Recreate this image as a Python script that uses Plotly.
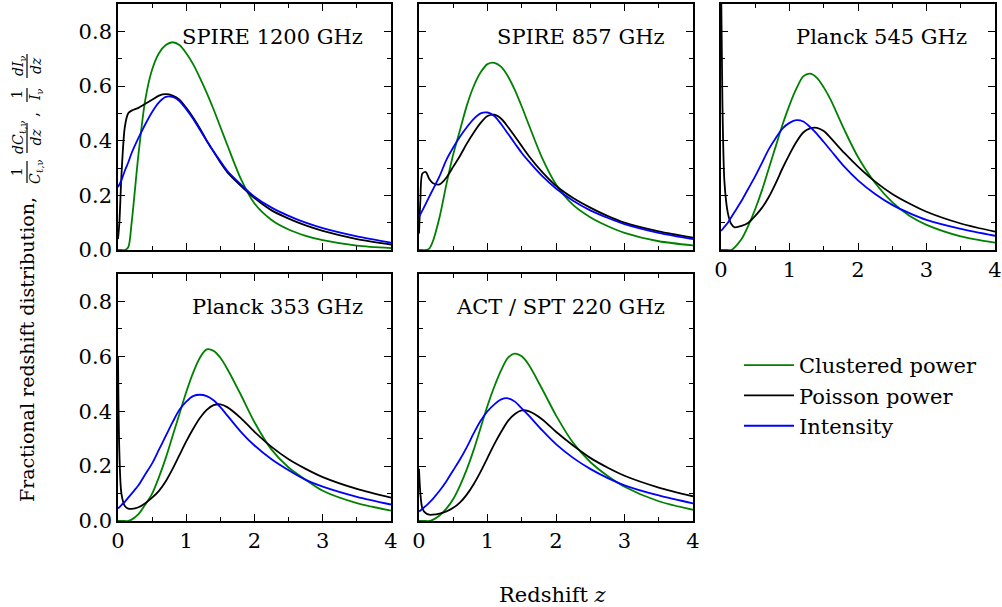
import plotly.graph_objects as go

# ---------------- data ----------------
Z = [0, 0.02, 0.05, 0.1, 0.15, 0.2, 0.3, 0.4, 0.5, 0.6, 0.7, 0.8, 0.9, 1.0, 1.1, 1.2,
     1.3, 1.4, 1.5, 1.6, 1.8, 2.0, 2.25, 2.5, 2.75, 3.0, 3.5, 4.0]

panel_titles = ["SPIRE 1200 GHz", "SPIRE 857 GHz", "Planck 545 GHz",
                "Planck 353 GHz", "ACT / SPT 220 GHz"]
series_names = ["Clustered power", "Poisson power", "Intensity"]

# SPIRE 1200 GHz
clus_1200 = [0, 0, 0, 0, 0.01, 0.1, 0.35, 0.55, 0.66, 0.72, 0.75, 0.76, 0.75, 0.72, 0.68, 0.63,
             0.575, 0.515, 0.45, 0.385, 0.26, 0.17, 0.11, 0.075, 0.052, 0.036, 0.016, 0.007]
pois_1200 = [0.04, 0.1, 0.27, 0.45, 0.5, 0.51, 0.52, 0.535, 0.55, 0.565, 0.57, 0.565, 0.55, 0.52, 0.485, 0.445,
             0.4, 0.36, 0.32, 0.285, 0.235, 0.19, 0.145, 0.115, 0.09, 0.07, 0.04, 0.02]
inte_1200 = [0.23, 0.24, 0.255, 0.29, 0.32, 0.355, 0.41, 0.46, 0.505, 0.54, 0.56, 0.56, 0.545, 0.515, 0.48, 0.44,
             0.4, 0.36, 0.325, 0.29, 0.24, 0.195, 0.155, 0.125, 0.1, 0.08, 0.05, 0.027]

# SPIRE 857 GHz
clus_857 = [0, 0, 0, 0, 0.005, 0.03, 0.12, 0.24, 0.35, 0.44, 0.53, 0.6, 0.65, 0.68, 0.685, 0.67,
            0.635, 0.585, 0.525, 0.46, 0.335, 0.24, 0.165, 0.12, 0.088, 0.063, 0.032, 0.017]
pois_857 = [0.06, 0.18, 0.28, 0.285, 0.26, 0.245, 0.24, 0.265, 0.305, 0.345, 0.39, 0.43, 0.465, 0.49, 0.495, 0.48,
            0.45, 0.415, 0.38, 0.345, 0.285, 0.235, 0.19, 0.155, 0.125, 0.1, 0.068, 0.045]
inte_857 = [0.12, 0.13, 0.145, 0.17, 0.195, 0.22, 0.27, 0.33, 0.375, 0.415, 0.45, 0.48, 0.5, 0.503, 0.49, 0.46,
            0.425, 0.39, 0.355, 0.325, 0.27, 0.225, 0.18, 0.145, 0.118, 0.095, 0.063, 0.04]

# Planck 545 GHz
clus_545 = [0, 0, 0, 0, 0, 0.01, 0.04, 0.09, 0.15, 0.22, 0.3, 0.38, 0.46, 0.53, 0.59, 0.635,
            0.645, 0.63, 0.595, 0.55, 0.44, 0.34, 0.245, 0.175, 0.125, 0.092, 0.05, 0.027]
pois_545 = [1.0, 0.55, 0.25, 0.135, 0.095, 0.083, 0.088, 0.1, 0.125, 0.155, 0.195, 0.245, 0.3, 0.35, 0.395, 0.43,
            0.445, 0.447, 0.435, 0.41, 0.355, 0.305, 0.25, 0.205, 0.17, 0.14, 0.097, 0.067]
inte_545 = [0.07, 0.075, 0.085, 0.1, 0.12, 0.14, 0.18, 0.225, 0.27, 0.32, 0.37, 0.41, 0.445, 0.465, 0.475, 0.47,
            0.45, 0.425, 0.395, 0.365, 0.305, 0.255, 0.205, 0.165, 0.135, 0.11, 0.077, 0.052]

# Planck 353 GHz
clus_353 = [0, 0, 0, 0, 0, 0.005, 0.025, 0.06, 0.1, 0.16, 0.23, 0.31, 0.39, 0.47, 0.54, 0.595,
            0.625, 0.62, 0.595, 0.555, 0.46, 0.36, 0.26, 0.195, 0.15, 0.11, 0.065, 0.038]
pois_353 = [0.6, 0.25, 0.1, 0.055, 0.045, 0.044, 0.05, 0.065, 0.085, 0.11, 0.145, 0.19, 0.24, 0.29, 0.335, 0.375,
            0.405, 0.422, 0.425, 0.415, 0.375, 0.325, 0.27, 0.225, 0.19, 0.16, 0.117, 0.085]
inte_353 = [0.046, 0.05, 0.058, 0.07, 0.085, 0.1, 0.13, 0.17, 0.21, 0.26, 0.31, 0.36, 0.405, 0.435, 0.455, 0.46,
            0.455, 0.44, 0.415, 0.385, 0.325, 0.275, 0.225, 0.185, 0.15, 0.125, 0.088, 0.06]

# ACT / SPT 220 GHz
clus_220 = [0, 0, 0, 0, 0, 0.004, 0.02, 0.045, 0.08, 0.13, 0.19, 0.26, 0.34, 0.42, 0.49, 0.55,
            0.595, 0.61, 0.6, 0.57, 0.48, 0.385, 0.285, 0.215, 0.165, 0.125, 0.072, 0.041]
pois_220 = [0.19, 0.1, 0.045, 0.028, 0.023, 0.023, 0.027, 0.035, 0.048, 0.068, 0.097, 0.135, 0.18, 0.23, 0.28, 0.325,
            0.365, 0.39, 0.403, 0.4, 0.37, 0.325, 0.275, 0.23, 0.195, 0.165, 0.122, 0.09]
inte_220 = [0.035, 0.038, 0.045, 0.055, 0.067, 0.08, 0.11, 0.145, 0.185, 0.225, 0.27, 0.32, 0.365, 0.4, 0.425, 0.443,
            0.447, 0.435, 0.41, 0.385, 0.33, 0.28, 0.23, 0.19, 0.157, 0.13, 0.093, 0.064]

panels = [
    (clus_1200, pois_1200, inte_1200),
    (clus_857, pois_857, inte_857),
    (clus_545, pois_545, inte_545),
    (clus_353, pois_353, inte_353),
    (clus_220, pois_220, inte_220),
]
colors = ["#008000", "#000000", "#0000ff"]

x_ticks = [0, 1, 2, 3, 4]
y_ticks = [0.0, 0.2, 0.4, 0.6, 0.8]
y_tick_text = ["0.0", "0.2", "0.4", "0.6", "0.8"]

# y-axis label pieces: main text + stacked fractions (numerator, denominator)
ylabel_main = "Fractional redshift distribution,"
ylabel_fracs = [
    ("1", "<i>C</i><sub>ℓ,ν</sub>"),
    ("<i>dC</i><sub>ℓ,ν</sub>", "<i>dz</i>"),
    ("1", "<i>I</i><sub>ν</sub>"),
    ("<i>dI</i><sub>ν</sub>", "<i>dz</i>"),
]

# ---------------- layout geometry ----------------
W, H = 1002, 607
col_px = [(118, 391), (419, 693), (721, 995)]
row_px = [(4, 250), (274, 521)]
cells = [(0, 0), (0, 1), (0, 2), (1, 0), (1, 1)]
show_x_labels = [False, False, True, True, True]
show_y_labels = [True, False, False, True, False]

FONT = "DejaVu Serif"
FS = 21
fig = go.Figure()

for i, (vals, (r, c)) in enumerate(zip(panels, cells)):
    n = "" if i == 0 else str(i + 1)
    for k in range(3):
        fig.add_trace(go.Scatter(
            x=Z, y=vals[k], mode="lines", name=series_names[k],
            line=dict(color=colors[k], width=1.8, shape="spline", smoothing=0.8),
            xaxis="x" + n, yaxis="y" + n, showlegend=(i == 0),
            legendgroup=series_names[k],
        ))
    x0, x1 = col_px[c]
    y0, y1 = row_px[r]
    common = dict(showline=True, linecolor="black", linewidth=1.6, mirror="allticks",
                  ticks="inside", ticklen=7, tickwidth=1, tickcolor="black",
                  showgrid=False, zeroline=False, automargin=False,
                  tickfont=dict(family=FONT, size=FS, color="black"))
    fig.layout["xaxis" + n] = dict(
        domain=[x0 / W, x1 / W], range=[0, 4], anchor="y" + n,
        tickvals=x_ticks, ticktext=[str(t) for t in x_ticks],
        showticklabels=show_x_labels[i],
        minor=dict(dtick=0.5, tick0=0, ticks="inside", ticklen=4, tickcolor="black", showgrid=False),
        **common)
    fig.layout["yaxis" + n] = dict(
        domain=[1 - y1 / H, 1 - y0 / H], range=[0, 0.9], anchor="x" + n,
        tickvals=y_ticks, ticktext=y_tick_text,
        showticklabels=show_y_labels[i],
        minor=dict(dtick=0.1, tick0=0, ticks="inside", ticklen=4, tickcolor="black", showgrid=False),
        **common)
    fig.add_annotation(text=panel_titles[i], xref=("x" + n + " domain"), yref=("y" + n + " domain"),
                       x=0.905, y=0.866, xanchor="right", yanchor="middle", showarrow=False,
                       font=dict(family=FONT, size=FS, color="black"))

# x-axis title
fig.add_annotation(text="Redshift <i>z</i>", xref="paper", yref="paper", x=553 / W, y=1 - 595 / H,
                   xanchor="center", yanchor="middle", showarrow=False,
                   font=dict(family=FONT, size=FS, color="black"))

# y-axis title (rotated), with stacked fractions
fig.add_annotation(text=ylabel_main, xref="paper", yref="paper", x=27 / W, y=1 - 350 / H,
                   textangle=-90, xanchor="center", yanchor="middle", showarrow=False,
                   font=dict(family=FONT, size=19, color="black"))
frac_centers = [172, 138, 95, 66]          # vertical pixel centres of the fractions
frac_halfbar = [11, 15, 7, 12]             # half length of each fraction bar
for (num, den), yc, hb in zip(ylabel_fracs, frac_centers, frac_halfbar):
    fig.add_annotation(text=num + "<br>" + den, xref="paper", yref="paper",
                       x=27 / W, y=1 - yc / H, textangle=-90, xanchor="center", yanchor="middle",
                       showarrow=False, align="center",
                       font=dict(family=FONT, size=14, color="black"))
    fig.add_shape(type="line", xref="paper", yref="paper", x0=27 / W, x1=27 / W,
                  y0=1 - (yc - hb) / H, y1=1 - (yc + hb) / H,
                  line=dict(color="black", width=1.2))
fig.add_annotation(text=",", xref="paper", yref="paper", x=33 / W, y=1 - 115 / H,
                   textangle=-90, xanchor="center", yanchor="middle", showarrow=False,
                   font=dict(family=FONT, size=16, color="black"))

fig.update_layout(
    template="none",
    width=W, height=H, margin=dict(l=0, r=0, t=0, b=0, autoexpand=False),
    paper_bgcolor="white", plot_bgcolor="white",
    font=dict(family=FONT, color="black"),
    legend=dict(x=739 / W, y=1 - 345 / H, xanchor="left", yanchor="top",
                font=dict(family=FONT, size=FS, color="black"),
                bgcolor="rgba(0,0,0,0)", borderwidth=0, itemwidth=50, tracegroupgap=0),
)

fig.write_html("out.html")
